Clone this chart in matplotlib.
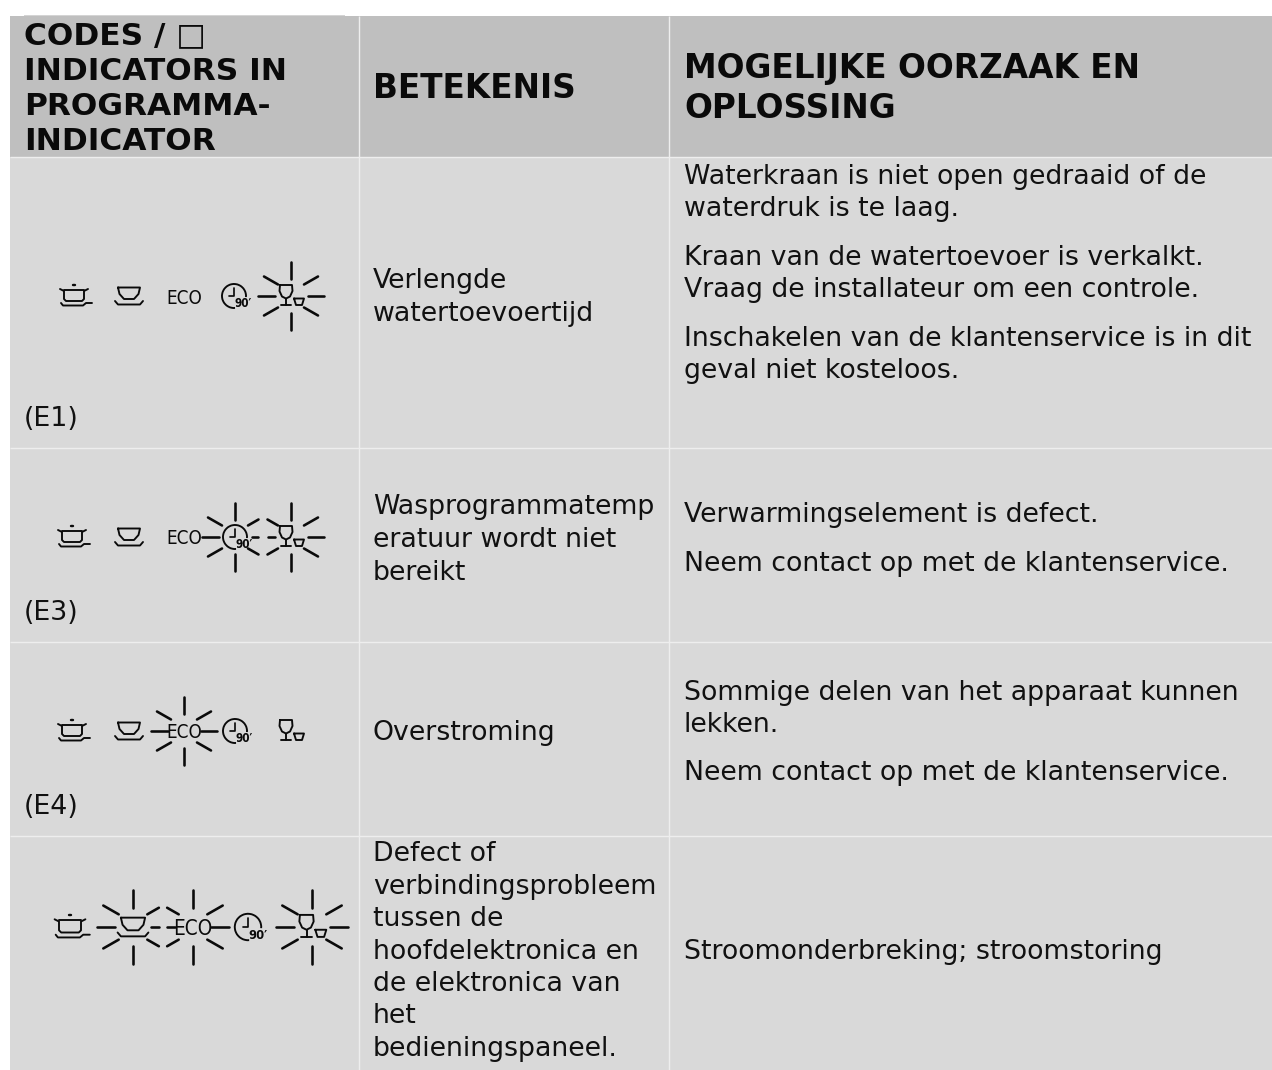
import matplotlib
matplotlib.use("Agg")
import matplotlib.pyplot as plt
from matplotlib.patches import Rectangle, Arc
from matplotlib import font_manager as fm
import numpy as np

W, H = 1272, 1070
HEAD_BG = "#BFBFBF"
BODY_BG = "#D9D9D9"
LINE = "#EEEEEE"
INK = "#0A0A0A"
BODY_TXT = "#111111"

header_col1 = ["CODES / \u25a1", "INDICATORS IN", "PROGRAMMA-", "INDICATOR"]
header_col2 = ["BETEKENIS"]
header_col3 = ["MOGELIJKE OORZAAK EN", "OPLOSSING"]

codes = ["(E1)", "(E3)", "(E4)", ""]
meanings = [
    ["Verlengde", "watertoevoertijd"],
    ["Wasprogrammatemp", "eratuur wordt niet", "bereikt"],
    ["Overstroming"],
    ["Defect of", "verbindingsprobleem", "tussen de", "hoofdelektronica en",
     "de elektronica van", "het", "bedieningspaneel."],
]
causes = [
    ["Waterkraan is niet open gedraaid of de", "waterdruk is te laag.",
     "Kraan van de watertoevoer is verkalkt.", "Vraag de installateur om een controle.",
     "Inschakelen van de klantenservice is in dit", "geval niet kosteloos."],
    ["Verwarmingselement is defect.", "Neem contact op met de klantenservice."],
    ["Sommige delen van het apparaat kunnen", "lekken.",
     "Neem contact op met de klantenservice."],
    ["Stroomonderbreking; stroomstoring"],
]
# layout, pixels
col_x = [10, 358.5, 669]
row_y = [16, 157, 448, 642, 836, 1070]
code_base = [426, 620, 814]
meaning_base = [[288.5, 321], [514, 547, 579.5], [740],
                [861, 894, 926, 959, 991, 1023, 1056]]
cause_base = [[184, 216, 265, 297, 346, 378], [522, 571], [700, 732, 780], [959]]
# icon rows: y, x positions of pot, cup, eco, clock, glass; blink states; scale
icon_y = [296, 537, 731, 927]
icon_x = [[74, 129, 184, 234, 291], [72, 129, 184, 235, 291],
          [72, 129, 184, 235, 291], [70, 133, 193, 248, 312]]
blink = [["", "", "", "", "full"], ["", "", "", "shortR", "shortL"],
         ["", "", "full", "", ""], ["", "shortR", "shortL", "", "full"]]
icon_scale = [1.0, 1.0, 1.0, 1.1]

# pick a narrow face for the pictogram lettering when one is installed
narrow = [f for f in fm.fontManager.ttflist
          if ("narrow" in f.name.lower() or "condensed" in f.name.lower()
              or "condensed" in str(f.stretch).lower() or "narrow" in f.fname.lower())
          and "italic" not in f.fname.lower() and "oblique" not in f.fname.lower()]
regular = [f for f in narrow if "bold" not in f.fname.lower()]
bold = [f for f in narrow if "bold" in f.fname.lower()]
ECO_FP = dict(fontproperties=fm.FontProperties(fname=regular[0].fname)) if regular else dict(family="Lato")
NUM_FP = dict(fontproperties=fm.FontProperties(fname=bold[0].fname)) if bold else dict(family="Lato", fontweight="bold")

fig = plt.figure(figsize=(W / 100, H / 100), dpi=100, facecolor="white")
ax = fig.add_axes([0, 0, 1, 1])
ax.set_xlim(0, W)
ax.set_ylim(H, 0)
ax.axis("off")
FONT = ["DejaVu Sans"]
BODY_SIZE = 19.3
HEAD1_SIZE = 22.5
HEAD2_SIZE = 23.6
lw = lambda px: px * 0.72

# backgrounds
ax.add_patch(Rectangle((col_x[0], row_y[0]), W - col_x[0], row_y[1] - row_y[0], fc=HEAD_BG, ec="none"))
ax.add_patch(Rectangle((24, 15), 321, 1, fc="#D4D4D4", ec="none"))
ax.add_patch(Rectangle((col_x[0], row_y[1]), W - col_x[0], row_y[-1] - row_y[1], fc=BODY_BG, ec="none"))
for y in row_y[1:-1]:
    ax.plot([col_x[0], W], [y, y], color=LINE, lw=lw(1.4), solid_capstyle="butt")
for x in col_x[1:]:
    ax.plot([x, x], [row_y[0], row_y[-1]], color=LINE, lw=lw(1.4), solid_capstyle="butt")

# header text
for t, y in zip(header_col1, [44.5, 79.5, 115, 150.5]):
    ax.text(24, y, t, fontsize=HEAD1_SIZE, fontweight="bold", family=FONT, color=INK, va="baseline")
ax.text(373, 98.5, header_col2[0], fontsize=HEAD2_SIZE, fontweight="bold", family=FONT, color=INK, va="baseline")
for t, y in zip(header_col3, [78, 118]):
    ax.text(684, y, t, fontsize=HEAD2_SIZE, fontweight="bold", family=FONT, color=INK, va="baseline")

# body text
for t, y in zip(codes, code_base):
    ax.text(24, y, t, fontsize=BODY_SIZE, family=FONT, color=BODY_TXT, va="baseline")
for lines, ys in zip(meanings, meaning_base):
    for t, y in zip(lines, ys):
        ax.text(373, y, t, fontsize=BODY_SIZE, family=FONT, color=BODY_TXT, va="baseline")
for lines, ys in zip(causes, cause_base):
    for t, y in zip(lines, ys):
        ax.text(684, y, t, fontsize=BODY_SIZE, family=FONT, color=BODY_TXT, va="baseline")


def seg(pts, x0, y0, s, w=1.9):
    p = np.array(pts, float) * s
    ax.plot(p[:, 0] + x0, p[:, 1] + y0, color=INK, lw=lw(w), solid_capstyle="round",
            solid_joinstyle="round")


def pot(x, y, s):
    seg([(-1, -11), (1, -11)], x, y, s, 2.4)
    seg([(-14, -7), (-10, -5), (-10, 3), (-8, 5), (8, 5), (10, 3), (10, -5), (14, -7)], x, y, s)
    seg([(-10, -6), (10, -6)], x, y, s)
    seg([(-13, 7), (-11, 9.5), (9, 9.5), (12, 7), (18, 7)], x, y, s)


def cup(x, y, s):
    seg([(-11, -8.5), (11, -8.5), (9.5, -2), (5, 3), (-5, 3), (-9.5, -2), (-11, -8.5)], x, y, s)
    seg([(-14, 5), (-11, 8.5), (11, 8.5), (14, 5)], x, y, s)


def eco(x, y, s):
    ax.text(x, y, "ECO", fontsize=13.5 * s, color=INK, ha="center", va="center_baseline", **ECO_FP)


def clock(x, y, s):
    ax.add_patch(Arc((x, y), 24 * s, 24 * s, theta1=85, theta2=365, color=INK, lw=lw(1.9)))
    seg([(0, -8), (0, 0), (-5, 0)], x, y, s, 1.7)
    ax.text(x + 9.5 * s, y + 7.5 * s, "90\u2032", fontsize=8.5 * s, color=INK, ha="center",
            va="center", **NUM_FP)


def glass(x, y, s):
    seg([(-11, -11), (1, -11), (1.5, -5), (-1, 0.5), (-5, 2.5), (-9, 0.5), (-11.5, -5), (-11, -11)], x, y, s)
    seg([(-5, 2.5), (-5, 9)], x, y, s)
    seg([(-10, 9), (0, 9)], x, y, s)
    seg([(3, 2.5), (13, 2.5), (11, 9), (5, 9), (3, 2.5)], x, y, s)


def rays(x, y, mode, s):
    if not mode:
        return
    v = [((0, -17), (0, -34)), ((0, 17), (0, 34))]
    left_h = ((-16.5, 0), (-33, 0))
    right_h = ((16.5, 0), (33, 0))
    d = {"tl": ((-13, -11.5), (-27, -19.5)), "bl": ((-13, 11.5), (-27, 19.5)),
         "tr": ((13, -11.5), (27, -19.5)), "br": ((13, 11.5), (27, 19.5))}
    parts = list(v)
    short = lambda a, f: (a[0], (a[0][0] + (a[1][0] - a[0][0]) * f, a[0][1] + (a[1][1] - a[0][1]) * f))
    if mode == "shortR":
        parts += [left_h, d["tl"], d["bl"], short(right_h, .42), short(d["tr"], .75), short(d["br"], .75)]
    elif mode == "shortL":
        parts += [right_h, d["tr"], d["br"], short(left_h, .42), short(d["tl"], .75), short(d["bl"], .75)]
    else:
        parts += [left_h, right_h, d["tl"], d["bl"], d["tr"], d["br"]]
    for a, b in parts:
        seg([a, b], x, y, s, 2.6)


icons = [pot, cup, eco, clock, glass]
for y, xs, states, s in zip(icon_y, icon_x, blink, icon_scale):
    for fn, x, st in zip(icons, xs, states):
        fn(x, y, s)
        rays(x, y, st, s)

fig.savefig("out.png", dpi=100, facecolor="white")
